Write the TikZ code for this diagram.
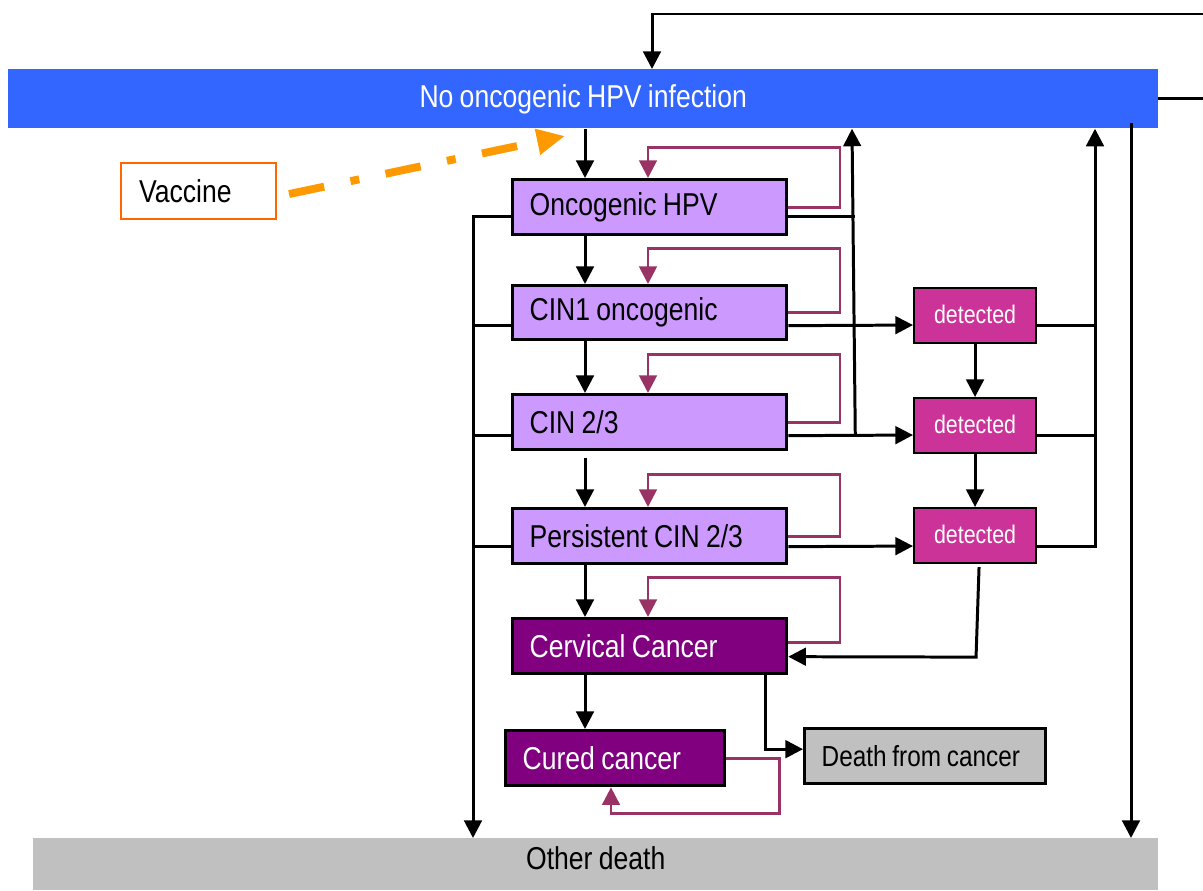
\documentclass[tikz,border=0pt]{standalone}
\usepackage{fontspec}
\setmainfont{Liberation Sans}[FakeStretch=0.84, WordSpace=0.85]
\usetikzlibrary{arrows.meta,calc}
\definecolor{hpvblue}{HTML}{3366FF}
\definecolor{lavender}{HTML}{CC99FF}
\definecolor{darkpurple}{HTML}{800080}
\definecolor{detmagenta}{HTML}{CC3399}
\definecolor{deathgrey}{HTML}{C0C0C0}
\definecolor{loopred}{HTML}{993366}
\definecolor{vacborder}{HTML}{FF6600}
\definecolor{vacorange}{HTML}{FF9900}
\begin{document}
\begin{tikzpicture}[x=0.02cm,y=-0.02cm,
  lbl/.style={font=\fontsize{18}{21}\selectfont},
  box/.style={rectangle, draw=black, line width=1.9pt, minimum height=1.1cm,
    inner xsep=0.34cm, inner ysep=0pt, align=flush left, anchor=north west, lbl},
  early/.style={box, fill=lavender, text width=4.8cm},
  late/.style={box, fill=darkpurple, text=white},
  detbox/.style={rectangle, draw=black, line width=1.2pt, fill=detmagenta, text=white,
    minimum width=2.44cm, minimum height=1.1cm, anchor=north west, inner sep=0pt,
    font=\fontsize{14.5}{17}\selectfont},
  tip/.style={-{Triangle[length=10pt,width=10pt]}},
  plain/.style={draw=black, line width=1.7pt},
  arr/.style={plain, tip},
  selfarr/.style={draw=loopred, line width=1.6pt, tip},
  vacarrow/.style={draw=vacorange, line width=4.5pt,
    dash pattern=on 20.4pt off 15.3pt on 5.1pt off 15.3pt,
    -{Triangle[length=16pt,width=14pt]}}]
\clip (0,0) rectangle (1203,890);

% vertical guide lines of the flow chart
\coordinate (xchain) at (585,0);
\coordinate (xloopR) at (840,0);
\coordinate (xloopL) at (648,0);
\coordinate (xleft) at (473,0);
\coordinate (xmid) at (852,0);
\coordinate (xdet) at (1095,0);
\coordinate (xright) at (1131,0);
\coordinate (xtop) at (652,0);
\coordinate (topin) at (1215,14);
\coordinate (topout) at (1215,98);
\coordinate (vtip) at (565,136);

% states
\node[fill=hpvblue, text=white, minimum width=23cm, minimum height=1.18cm,
  anchor=north west, inner sep=0pt, lbl] (noinf) at (8,69) {\raisebox{0.06cm}{No oncogenic HPV infection}};
\fill[deathgrey] (33,838) rectangle (1158,890);
\node[minimum width=22.5cm, minimum height=0.8cm, anchor=north west, inner sep=0pt, lbl]
  (other) at (33,838) {Other death};

\node[box, draw=vacborder, line width=1.2pt, fill=white, minimum height=1.12cm,
  inner xsep=0.36cm, text width=2.38cm] (vacc) at (120,162) {Vaccine};

\node[early] (onco)  at (511,178) {Oncogenic HPV};
\node[early, minimum height=1.08cm] (cin1) at (511,284) {CIN1 oncogenic};
\node[early] (cin23) at (511,393) {CIN 2/3};
\node[early] (pers)  at (511,507) {Persistent CIN 2/3};
\node[late, text width=4.8cm]  (cerv)  at (511,617) {Cervical Cancer};
\node[late, text width=3.7cm]  (cured) at (504,729) {Cured cancer};
\node[box, fill=deathgrey, text width=4.14cm, font=\fontsize{16.5}{19}\selectfont]
  (death) at (803,727) {Death from cancer};

\node[detbox] (det1) at (913,287) {\raisebox{0.07cm}{detected}};
\node[detbox] (det2) at (913,397) {\raisebox{0.07cm}{detected}};
\node[detbox] (det3) at (913,507) {\raisebox{0.07cm}{detected}};

% return to the uninfected state from outside the chart
\draw[arr] (topin) -- (xtop |- topin) -- (noinf.north -| xtop);
\draw[plain] (noinf.east |- topout) -- (topout);

% vaccination
\draw[vacarrow] ($(vacc.east)+(12,3)$) -- (vtip);

% progression chain
\draw[arr] (noinf.south -| xchain) -- (onco.north -| xchain);
\draw[arr] (onco.south -| xchain) -- (cin1.north -| xchain);
\draw[arr] (cin1.south -| xchain) -- (cin23.north -| xchain);
\draw[arr] ($(cin23.south -| xchain)+(0,7)$) -- (pers.north -| xchain);
\draw[arr] (pers.south -| xchain) -- (cerv.north -| xchain);
\draw[arr] (cerv.south -| xchain) -- (cured.north -| xchain);

% staying in the same state
\draw[selfarr] (onco.east)  -- (onco.east -| xloopR)  -- ++(0,-60) -| (onco.north -| xloopL);
\draw[selfarr] (cin1.east)  -- (cin1.east -| xloopR)  -- ++(0,-64) -| (cin1.north -| xloopL);
\draw[selfarr] (cin23.east) -- (cin23.east -| xloopR) -- ++(0,-68) -| (cin23.north -| xloopL);
\draw[selfarr] (pers.east)  -- (pers.east -| xloopR)  -- ++(0,-62) -| (pers.north -| xloopL);
\draw[selfarr] ($(cerv.east)+(0,-4)$) -- ($(cerv.east -| xloopR)+(0,-4)$) -- ++(0,-65) -| (cerv.north -| xloopL);
\draw[selfarr] (cured.east) -- ++(53,0) -- ++(0,55.5) -| ($(cured.south west)+(107,0)$);

% deaths from other causes
\draw[arr] ($(onco.west)+(0,9)$) -| (other.north -| xleft);
\draw[plain] ($(cin1.west)+(0,13)$) -- ++(-38,0);
\draw[plain] ($(cin23.west)+(0,13)$) -- ++(-38,0);
\draw[plain] ($(pers.west)+(0,10.5)$) -- ++(-38,0);
\draw[arr] ($(noinf.south -| xright)+(0,-6)$) -- (other.north -| xright);

% regression and detection
\draw[plain] ($(onco.east)+(0,9)$) -- ++(67,0);
\draw[arr] ($(cin1.east)+(0,13)$) -- ($(det1.west)+(0,9.5)$);
\draw[arr] ($(cin23.east)+(0,13.5)$) -- ($(det2.west)+(0,9.5)$);
\draw[arr] ($(pers.east)+(0,10.5)$) -- ($(det3.west)+(0,10.5)$);
\draw[arr] ($(cin23.east)+(67,13.5)$) -- (noinf.south -| xmid);

\draw[arr] (det1.south) -- (det2.north);
\draw[arr] (det2.south) -- (det3.north);
\draw[plain] ($(det1.east)+(0,9.5)$) -- ++(60,0);
\draw[plain] ($(det2.east)+(0,9.5)$) -- ++(60,0);
\draw[arr] ($(det3.east)+(0,10.5)$) -| (noinf.south -| xdet);

\draw[arr] ($(det3.south)+(4,3)$) -- ($(det3.south)+(1,93)$) -- ($(cerv.east)+(0,10.5)$);
\draw[arr] ($(cerv.south east)+(-23,0)$) |- ($(death.west)+(0,-7)$);
\end{tikzpicture}
\end{document}
